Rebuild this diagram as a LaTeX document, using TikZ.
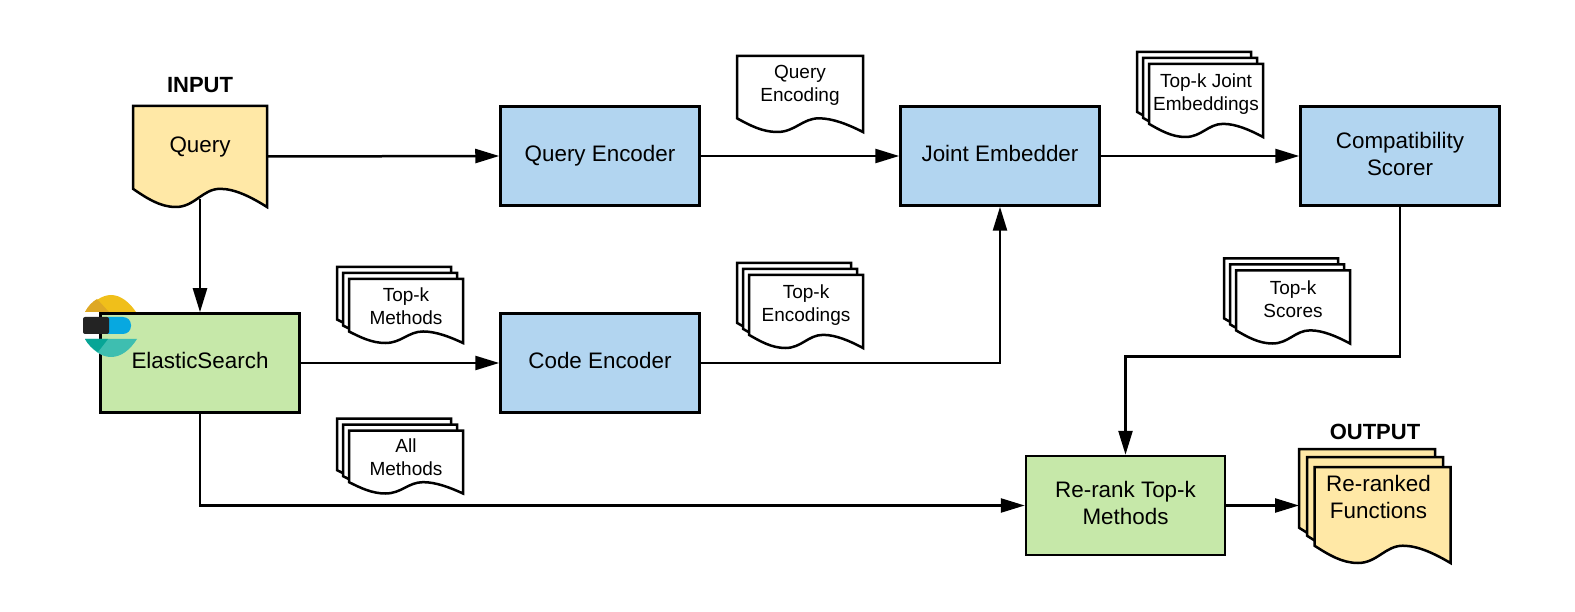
\documentclass[tikz,border=0pt]{standalone}
\usepackage{fontspec}
\setmainfont{Liberation Sans}
\usepackage{xcolor}
\usetikzlibrary{arrows.meta,positioning,calc}

\definecolor{boxblue}{HTML}{B2D5F0}
\definecolor{boxgreen}{HTML}{C6E8A9}
\definecolor{docyellow}{HTML}{FFE8A6}

\def\sheetlift{10pt}
\def\sheetnudge{0pt}
\makeatletter
\pgfdeclareshape{docsheet}{
  \inheritsavedanchors[from=rectangle]
  \inheritanchorborder[from=rectangle]
  \inheritanchor[from=rectangle]{center}
  \inheritanchor[from=rectangle]{north}
  \inheritanchor[from=rectangle]{south}
  \inheritanchor[from=rectangle]{east}
  \inheritanchor[from=rectangle]{west}
  \anchor{text}{\pgfpoint{\sheetnudge}{\sheetlift}}
  \backgroundpath{
    \southwest \edef\sx{\the\pgf@x}\edef\sy{\the\pgf@y}
    \northeast \edef\ex{\the\pgf@x}\edef\ey{\the\pgf@y}
    \def\sw{(\ex-\sx)}\def\sh{(\ey-\sy)}
    \pgfpathmoveto{\pgfpoint{\sx}{\sy+0.18*\sh}}
    \pgfpathlineto{\pgfpoint{\sx}{\ey}}
    \pgfpathlineto{\pgfpoint{\ex}{\ey}}
    \pgfpathlineto{\pgfpoint{\ex}{\sy}}
    \pgfpathcurveto{\pgfpoint{\sx+0.88*\sw}{\sy+0.10*\sh}}{\pgfpoint{\sx+0.76*\sw}{\sy+0.18*\sh}}{\pgfpoint{\sx+0.65*\sw}{\sy+0.18*\sh}}
    \pgfpathcurveto{\pgfpoint{\sx+0.52*\sw}{\sy+0.18*\sh}}{\pgfpoint{\sx+0.46*\sw}{\sy}}{\pgfpoint{\sx+0.32*\sw}{\sy}}
    \pgfpathcurveto{\pgfpoint{\sx+0.20*\sw}{\sy}}{\pgfpoint{\sx+0.10*\sw}{\sy+0.09*\sh}}{\pgfpoint{\sx}{\sy+0.18*\sh}}
    \pgfpathclose
  }
}
\makeatother

\tikzset{
  lift/.store in=\sheetlift,
  nudge/.store in=\sheetnudge,
  box/.style={draw, line width=2.5pt, minimum width=199pt, minimum height=99pt, inner sep=0pt, align=center, font=\fontsize{22.4}{27}\selectfont, execute at end node={\vphantom{y}}},
  enc/.style={box, fill=boxblue},
  act/.style={box, fill=boxgreen},
  doc/.style={docsheet, draw, line width=2.5pt, fill=white, minimum width=#1, inner sep=0pt, align=center, font=\fontsize{19}{23}\selectfont},
  doc/.default=111.5pt,
  title/.style={font=\fontsize{22}{26}\selectfont\bfseries, inner sep=0pt},
  arr/.style={-{Triangle[length=24pt,width=14pt]}, line width=2.5pt}
}

% three sheets, front one at #2
\newcommand{\stackdoc}[5][minimum height=70.5pt]{
  \node[doc, #1] (#3a) at ($(#2)+(-12,-12)$) {};
  \node[doc, #1] (#3b) at ($(#2)+(-6,-6)$) {};
  \node[doc, #1, lift=#4] (#3) at (#2) {#5};
}

\begin{document}
\begin{tikzpicture}[x=1pt, y=-1pt]
\useasboundingbox (0,0) rectangle (1575,612);

\node[doc=131.5pt, fill=docyellow, minimum height=98.5pt, lift=9pt, font=\fontsize{22.4}{27}\selectfont] (query) at (200,156.5) {Query};
\node[title, above=13pt of query] (input) {INPUT};
\node[enc] (qenc) at (600,156) {Query Encoder};
\node[enc, right=198.5pt of qenc] (joint) {Joint Embedder};
\node[enc, right=198.5pt of joint] (scorer) {Compatibility\\Scorer};
\node[act] (elastic) at (200,363) {ElasticSearch};
\node[enc, right=198.5pt of elastic] (cenc) {Code Encoder};
\node[act] (rerank) at (1125.5,505.5) {Re-rank Top-k\\Methods};

\node[doc=123.5pt, minimum height=73.5pt, lift=8.5pt] (qdoc) at (800,94) {Query\\Encoding};
\stackdoc{1206,100.5}{jdoc}{6pt}{Top-k Joint\\Embeddings}
\stackdoc[minimum height=61.5pt]{406,311}{mdoc}{4.5pt}{Top-k\\Methods}
\stackdoc{806,311.5}{edoc}{6.5pt}{Top-k\\Encodings}
\stackdoc{1293,307}{sdoc}{8pt}{Top-k\\Scores}
\stackdoc[minimum height=60.5pt]{406,462}{adoc}{4.5pt}{All\\Methods}

\node[doc=133.5pt, fill=docyellow, minimum height=93.5pt] (outa) at (1367,497) {};
\node[doc=133.5pt, fill=docyellow, minimum height=93.5pt] (outb) at (1375,505) {};
\node[doc=133.5pt, fill=docyellow, minimum height=93.5pt, lift=18pt, nudge=-4pt, font=\fontsize{22.4}{27}\selectfont] (out) at (1382.5,515) {Re-ranked\\Functions};
\node[title, above=17pt of outb] (output) {OUTPUT};

\draw[arr] (query.east) -- (qenc.west);
\draw[arr] (qenc.east) -- (joint.west);
\draw[arr] (joint.east) -- (scorer.west);
\draw[arr, shorten <=-8pt] (query.south) -- (elastic.north);
\draw[arr] (elastic.east) -- (cenc.west);
\draw[arr] (cenc.east) -| (joint.south);
\draw[arr] (scorer.south) -- ++(0,150) -| (rerank.north);
\draw[arr] (elastic.south) |- (rerank.west);
\draw[arr] (rerank.east) -- (rerank.east -| outa.west);

% logo
\fill[fill={rgb,255:red,240;green,191;blue,26}] (85,312) .. controls (92,302) and (102,295) .. (111,295) .. controls (121,295) and (130,303) .. (136,312) -- cycle;
\fill[fill={rgb,255:red,222;green,168;blue,36}] (85,312) .. controls (88,306) and (92,302) .. (97,299) -- (109,312) -- cycle;
\fill[fill={rgb,255:red,7;green,168;blue,224}, rounded corners=8pt] (100,317) -- (131,317) -- (131,334) -- (100,334) -- cycle;
\fill[fill={rgb,255:red,35;green,35;blue,35}, rounded corners=2pt] (83,317) -- (109,317) -- (109,334) -- (83,334) -- cycle;
\fill[fill={rgb,255:red,62;green,190;blue,176}] (85,339) -- (137,339) .. controls (130,350) and (121,357) .. (111,357) .. controls (101,357) and (92,350) .. cycle;
\fill[fill={rgb,255:red,7;green,165;blue,150}] (85,339) -- (108,339) -- (98,352) .. controls (93,349) and (88,345) .. cycle;
\end{tikzpicture}
\end{document}
